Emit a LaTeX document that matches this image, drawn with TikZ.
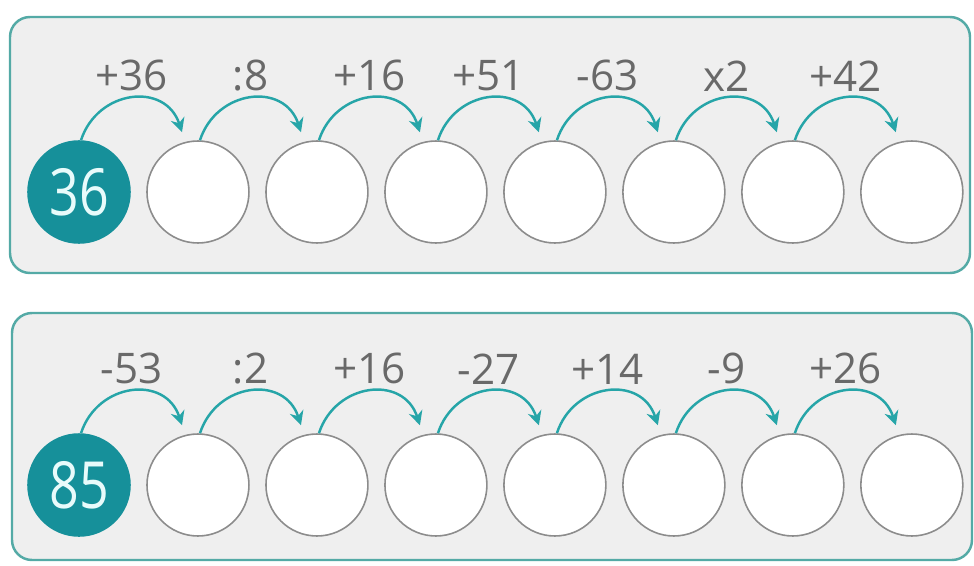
\documentclass[tikz,border=0pt]{standalone}
\usepackage{fontspec}
\setmainfont{Open Sans}
\usetikzlibrary{arrows.meta,calc}
\definecolor{panelfill}{RGB}{239,239,239}
\definecolor{panelline}{RGB}{84,170,166}
\definecolor{jumpteal}{RGB}{38,165,168}
\definecolor{startteal}{RGB}{22,144,154}
\definecolor{starttext}{RGB}{232,251,251}
\definecolor{labelgray}{RGB}{105,105,105}
\definecolor{ringgray}{RGB}{140,140,140}

\tikzset{
  panel/.style={draw=panelline, line width=1.4pt, fill=panelfill, rounded corners=0.4cm},
  ring/.style={draw=ringgray, line width=0.9pt, fill=white, circle, minimum size=2.04cm, inner sep=0pt},
  startring/.style={ring, draw=startteal, fill=startteal, text=starttext, font=\fontsize{37}{40}\selectfont},
  jump/.style={draw=jumpteal, line width=1.4pt, -{Stealth[length=8pt,width=8pt]}},
  oplabel/.style={above, text=labelgray, font=\fontsize{24}{28}\selectfont}
}

\begin{document}
\begin{tikzpicture}[x=0.02cm, y=-0.02cm, node distance=2.38cm]
    \useasboundingbox (0,0) rectangle (974,565);

    % top row
    \draw[panel] (10,17) rectangle (970,273);
    \node[startring] (a0) at (79,192) {\scalebox{0.8}[1]{36}};
    \foreach \i [count=\j from 0] in {1,...,7}
        \node[ring, right of=a\j] (a\i) {};
    \foreach \i/\op [count=\j from 0] in {1/+36, 2/:8, 3/+16, 4/+51, 5/-63, 6/x2, 7/+42}
        \draw[jump] ($(a\j.north)+(2,0)$) to[out=72, in=108, looseness=1.35]
            node[oplabel] (ta\i) {\op} ($(a\i.north)+(-16,-8)$);

    % bottom row
    \draw[panel] (12,313) rectangle (972,560);
    \node[startring] (b0) at (79,485) {\scalebox{0.8}[1]{85}};
    \foreach \i [count=\j from 0] in {1,...,7}
        \node[ring, right of=b\j] (b\i) {};
    \foreach \i/\op [count=\j from 0] in {1/-53, 2/:2, 3/+16, 4/-27, 5/+14, 6/-9, 7/+26}
        \draw[jump] ($(b\j.north)+(2,0)$) to[out=72, in=108, looseness=1.35]
            node[oplabel] (tb\i) {\op} ($(b\i.north)+(-16,-8)$);
\end{tikzpicture}
\end{document}
